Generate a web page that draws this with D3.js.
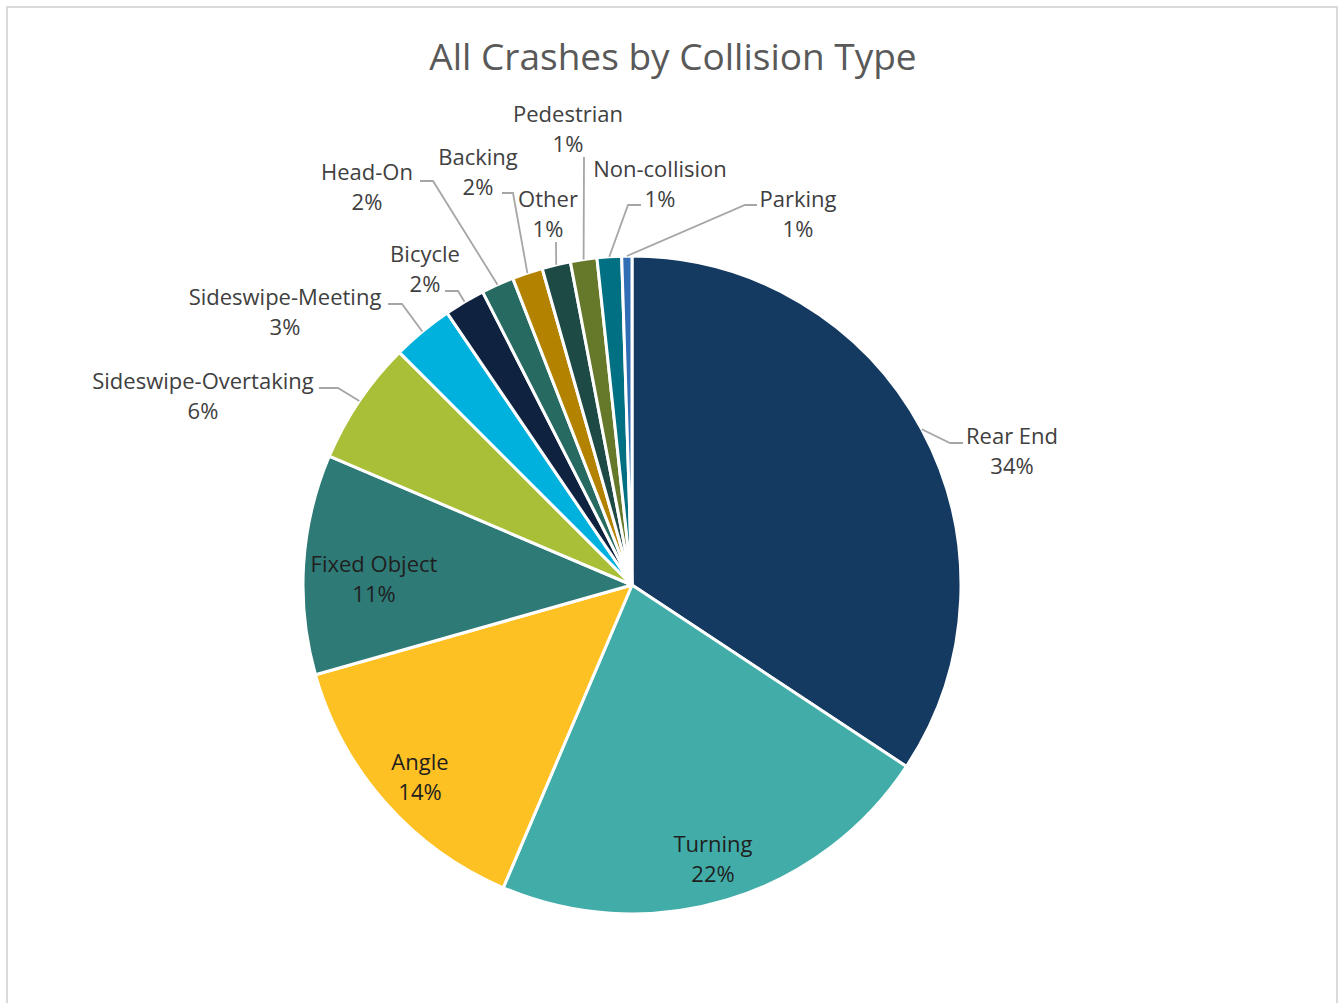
<!DOCTYPE html>
<html>

<head>
	<script src="https://d3js.org/d3.v7.min.js"></script>
	<title>All Crashes by Collision Type</title>
	<style>
		body {
			margin: 0;
			background: #fff;
			font-family: "Open Sans", sans-serif;
		}
	</style>
</head>

<body>
	<div id="chart"></div>

	<script>
		// slice data, clockwise from 12 o'clock
		const categories = ["Rear End", "Turning", "Angle", "Fixed Object", "Sideswipe-Overtaking",
			"Sideswipe-Meeting", "Bicycle", "Head-On", "Backing", "Other", "Pedestrian",
			"Non-collision", "Parking"];
		const shares = [34.3, 22.1, 14.2, 10.8, 6.1, 3.0, 2.0, 1.6, 1.5, 1.4, 1.3, 1.2, 0.5];
		const pctLabels = ["34%", "22%", "14%", "11%", "6%", "3%", "2%", "2%", "2%", "1%", "1%", "1%", "1%"];
		const colors = ["#143a62", "#42ada8", "#fec124", "#2e7a76", "#aabf38", "#00b0dd", "#0f2340",
			"#266a62", "#b38300", "#1e4a46", "#66792a", "#017083", "#2f6db4"];

		// label placement (text centre x, first baseline y, leader bend points)
		const labelPos = {
			"Rear End": { x: 1012, y: 444, leader: [[950, 443], [963, 443]] },
			"Turning": { x: 713, y: 852, inside: true },
			"Angle": { x: 420, y: 770, inside: true },
			"Fixed Object": { x: 374, y: 572, inside: true },
			"Sideswipe-Overtaking": { x: 203, y: 389, leader: [[338, 388], [319, 388]] },
			"Sideswipe-Meeting": { x: 285, y: 305, leader: [[402, 304], [388, 304]] },
			"Bicycle": { x: 425, y: 262, leader: [[458, 291], [445, 291]] },
			"Head-On": { x: 367, y: 180, leader: [[433, 181], [420, 181]] },
			"Backing": { x: 478, y: 165, leader: [[513, 193], [502, 193]] },
			"Other": { x: 548, y: 207, leader: [[556, 242]] },
			"Pedestrian": { x: 568, y: 122, leader: [[584, 157]] },
			"Non-collision": { x: 660, y: 177, leader: [[628, 205], [641, 205]] },
			"Parking": { x: 798, y: 207, leader: [[745, 205], [757, 205]] }
		};

		const W = 1340, H = 1003;
		const cx = 632, cy = 585, radius = 329;

		const svg = d3.select("#chart")
			.append("svg")
			.attr("width", W)
			.attr("height", H);

		// chart frame
		svg.append("rect")
			.attr("x", 7)
			.attr("y", 7)
			.attr("width", 1330)
			.attr("height", H + 20)
			.attr("fill", "#fff")
			.attr("stroke", "#d9d9d9")
			.attr("stroke-width", 2);

		svg.append("text")
			.attr("x", 673)
			.attr("y", 70)
			.attr("text-anchor", "middle")
			.style("font-size", "37px")
			.style("fill", "#595959")
			.text("All Crashes by Collision Type");

		const data = categories.map((c, i) => ({ name: c, value: shares[i], pct: pctLabels[i], color: colors[i] }));

		const pie = d3.pie()
			.sort(null)
			.value(d => d.value);

		const arc = d3.arc()
			.innerRadius(0)
			.outerRadius(radius);

		const arcs = pie(data);

		const g = svg.append("g")
			.attr("transform", `translate(${cx},${cy})`);

		g.selectAll("path")
			.data(arcs)
			.enter()
			.append("path")
			.attr("d", arc)
			.attr("fill", d => d.data.color)
			.attr("stroke", "#fff")
			.attr("stroke-width", 3)
			.attr("stroke-linejoin", "round");

		// leader lines start on the rim at each slice's mid angle
		const edgePoint = d => {
			const a = (d.startAngle + d.endAngle) / 2;
			return [cx + radius * Math.sin(a), cy - radius * Math.cos(a)];
		};

		const line = d3.line();

		arcs.forEach(d => {
			const lp = labelPos[d.data.name];
			if (lp.leader) {
				svg.append("path")
					.attr("d", line([edgePoint(d), ...lp.leader]))
					.attr("fill", "none")
					.attr("stroke", "#a6a6a6")
					.attr("stroke-width", 1.8);
			}
			const t = svg.append("text")
				.attr("text-anchor", "middle")
				.style("font-size", "22px")
				.style("fill", lp.inside ? "#1f1f1f" : "#404040");
			t.append("tspan").attr("x", lp.x).attr("y", lp.y).text(d.data.name);
			t.append("tspan").attr("x", lp.x).attr("y", lp.y + 30).text(d.data.pct);
		});
	</script>
</body>

</html>
